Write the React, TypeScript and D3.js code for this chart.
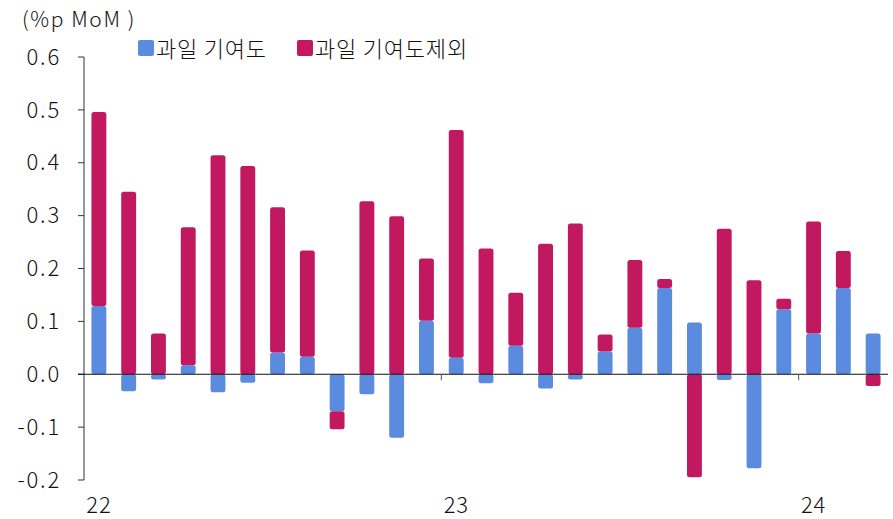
import { useEffect, useRef } from "react";
import * as d3 from "d3";

// monthly, 2022.01 ~ 2024.03
const months = [
  "22.01", "22.02", "22.03", "22.04", "22.05", "22.06", "22.07", "22.08", "22.09",
  "22.10", "22.11", "22.12", "23.01", "23.02", "23.03", "23.04", "23.05", "23.06",
  "23.07", "23.08", "23.09", "23.10", "23.11", "23.12", "24.01", "24.02", "24.03",
];
const fruit = [
  0.129, -0.032, -0.01, 0.017, -0.034, -0.016, 0.041, 0.033, -0.07, -0.038, -0.12,
  0.101, 0.031, -0.017, 0.054, -0.027, -0.01, 0.043, 0.088, 0.163, 0.098, -0.011,
  -0.178, 0.123, 0.077, 0.163, 0.077,
];
const exFruit = [
  0.367, 0.345, 0.077, 0.261, 0.414, 0.394, 0.275, 0.201, -0.034, 0.327, 0.299,
  0.118, 0.431, 0.238, 0.1, 0.247, 0.285, 0.032, 0.128, 0.017, -0.195, 0.275,
  0.178, 0.02, 0.212, 0.07, -0.022,
];
const seriesNames = ["과일 기여도", "과일 기여도제외"];
const colors = ["#5a8bde", "#c21860"];
const yTicks = [-0.2, -0.1, 0, 0.1, 0.2, 0.3, 0.4, 0.5, 0.6];
const yearLabels = [
  { month: "22.01", label: "22" },
  { month: "23.01", label: "23" },
  { month: "24.01", label: "24" },
];
const yearBreaks = ["23.01", "24.01"];

const FONT = "'Noto Sans CJK KR', 'Noto Sans', sans-serif";

const App = () => {
  const svgRef = useRef<SVGSVGElement>(null);

  useEffect(() => {
    const svg = d3.select(svgRef.current);
    svg.selectAll("*").remove();

    const x = d3.scaleBand().domain(months).range([84, 888]).paddingInner(0.5).paddingOuter(0.25);
    const y = d3.scaleLinear().domain([-0.2, 0.6]).range([480, 57]);

    const rows = months.map((m, i) => ({ month: m, fruit: fruit[i], exFruit: exFruit[i] }));
    const stack = d3
      .stack<any>()
      .keys(["fruit", "exFruit"])
      .offset(d3.stackOffsetDiverging);
    const series = stack(rows);

    // bars
    series.forEach((s, si) => {
      svg
        .append("g")
        .selectAll("rect")
        .data(s)
        .enter()
        .append("rect")
        .attr("x", (d: any) => x(d.data.month)!)
        .attr("width", x.bandwidth())
        .attr("y", (d) => y(Math.max(d[0], d[1])))
        .attr("height", (d) => Math.abs(y(d[0]) - y(d[1])))
        .attr("rx", 2.5)
        .attr("fill", colors[si]);
    });

    // y axis
    const ya = svg.append("g");
    ya.append("line")
      .attr("x1", 84)
      .attr("x2", 84)
      .attr("y1", y(0.6))
      .attr("y2", y(-0.2))
      .attr("stroke", "#333")
      .attr("stroke-width", 1);
    yTicks.forEach((t) => {
      ya.append("line")
        .attr("x1", 78)
        .attr("x2", 84)
        .attr("y1", y(t))
        .attr("y2", y(t))
        .attr("stroke", "#333");
      ya.append("text")
        .attr("x", 61)
        .attr("y", y(t))
        .attr("dy", "0.35em")
        .attr("text-anchor", "end")
        .attr("font-family", FONT)
        .attr("font-weight", 300)
        .attr("font-size", 22)
        .attr("letter-spacing", 1.8)
        .attr("fill", "#111")
        .text(d3.format(".1f")(t).replace("−", "-"));
    });

    // zero line
    svg
      .append("line")
      .attr("x1", 78)
      .attr("x2", 888)
      .attr("y1", y(0))
      .attr("y2", y(0))
      .attr("stroke", "#111")
      .attr("stroke-width", 1.2);

    // year break ticks
    yearBreaks.forEach((m) => {
      const bx = x(m)! - (x.step() - x.bandwidth()) / 2;
      svg
        .append("line")
        .attr("x1", bx)
        .attr("x2", bx)
        .attr("y1", y(0))
        .attr("y2", y(0) + 6)
        .attr("stroke", "#555");
    });

    // x labels
    yearLabels.forEach((d) => {
      svg
        .append("text")
        .attr("x", x(d.month)! + x.bandwidth() / 2)
        .attr("y", 513)
        .attr("text-anchor", "middle")
        .attr("font-family", FONT)
        .attr("font-weight", 300)
        .attr("font-size", 22)
        .attr("letter-spacing", 0.8)
        .attr("fill", "#111")
        .text(d.label);
    });

    // unit
    svg
      .append("text")
      .attr("x", 22)
      .attr("y", 27)
      .attr("font-family", FONT)
      .attr("font-weight", 300)
      .attr("font-size", 21)
      .attr("letter-spacing", 1.6)
      .attr("fill", "#111")
      .text("(%p MoM )");

    // legend
    const legendX = [138, 297];
    seriesNames.forEach((name, i) => {
      svg
        .append("rect")
        .attr("x", legendX[i])
        .attr("y", 40)
        .attr("width", 16)
        .attr("height", 16)
        .attr("rx", 2)
        .attr("fill", colors[i]);
      svg
        .append("text")
        .attr("x", legendX[i] + 18)
        .attr("y", 49)
        .attr("dy", "0.35em")
        .attr("font-family", FONT)
        .attr("font-weight", 300)
        .attr("font-size", 22)
        .attr("letter-spacing", 0.8)
        .attr("fill", "#111")
        .text(name);
    });
  }, []);

  return (
    <svg
      ref={svgRef}
      width={893}
      height={519}
      style={{ position: "absolute", left: 0, top: 0, background: "#fff" }}
    ></svg>
  );
};

export default App;
